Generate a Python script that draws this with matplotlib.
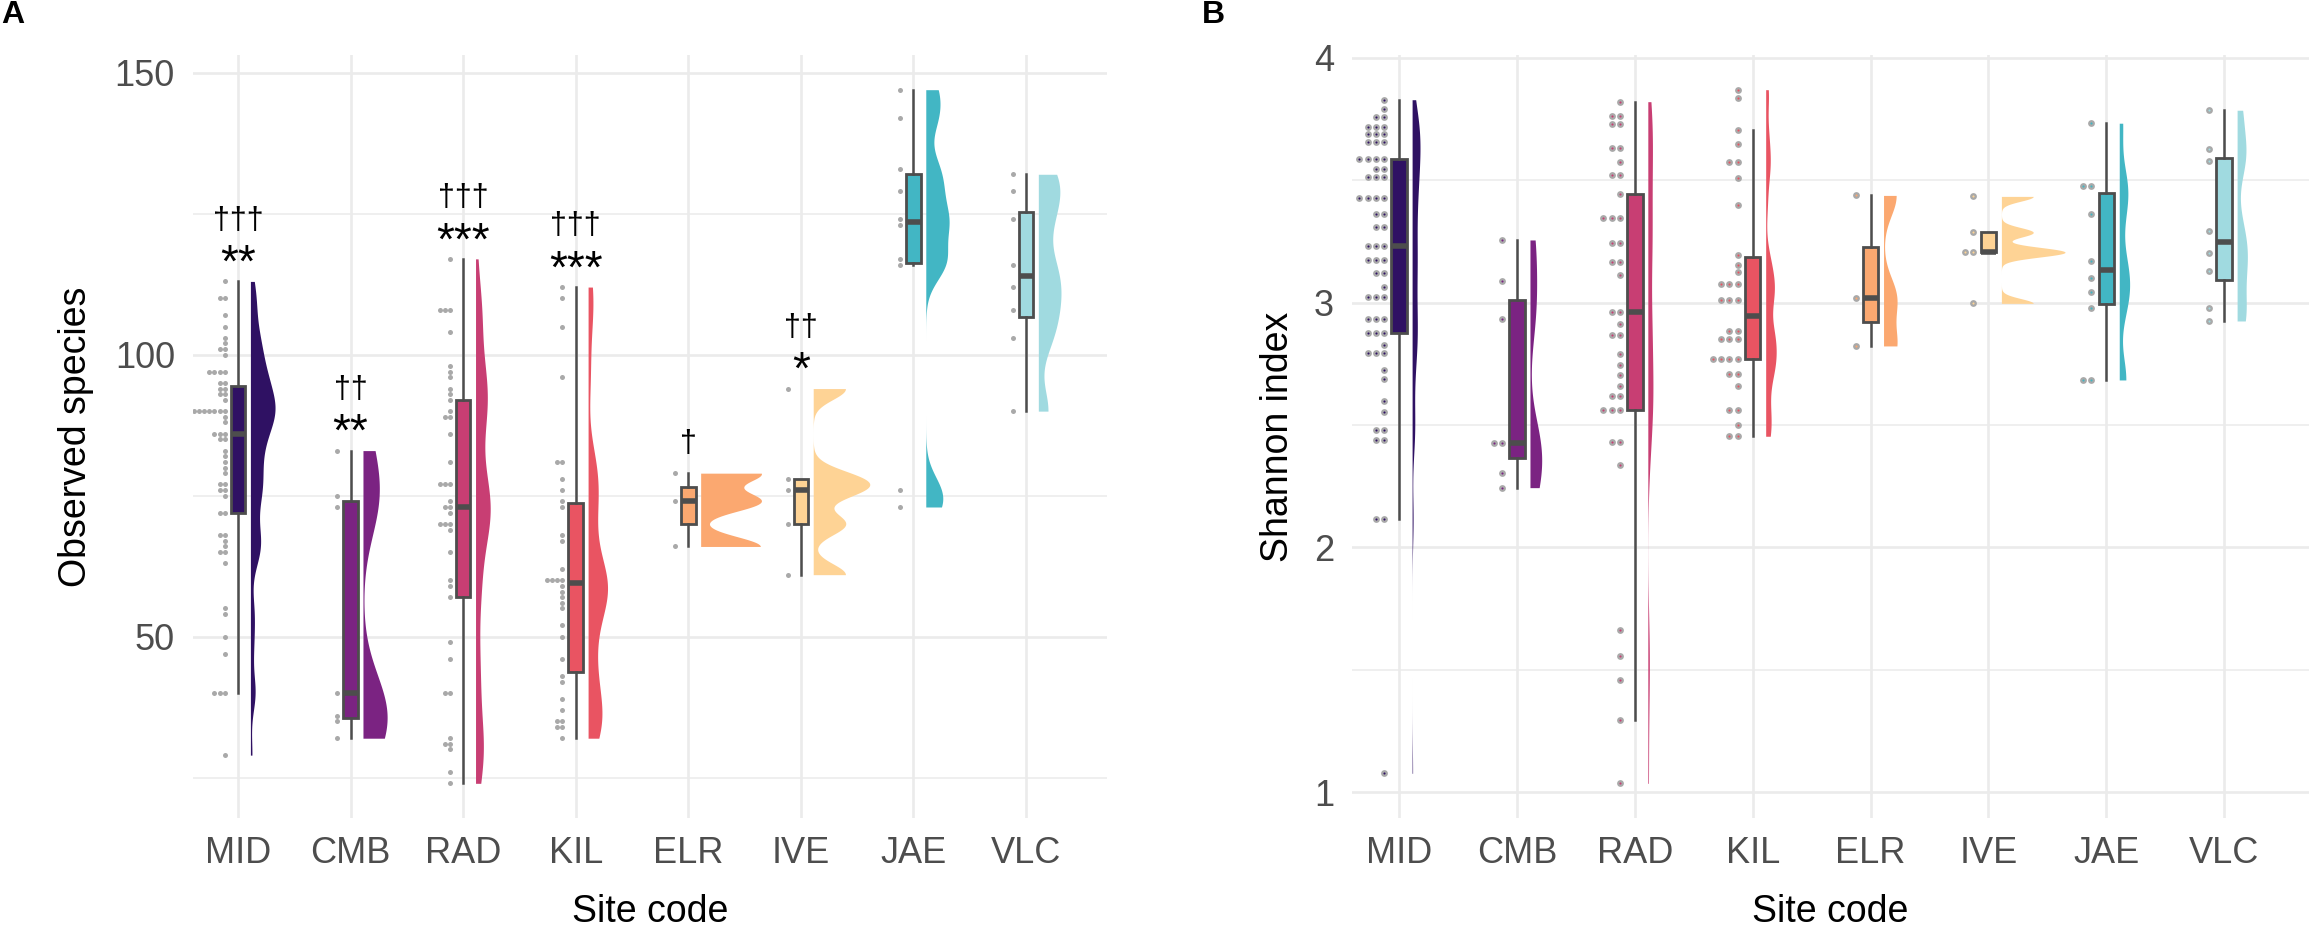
import numpy as np
import matplotlib
matplotlib.use('Agg')
import matplotlib.pyplot as plt
from matplotlib.ticker import MultipleLocator

plt.rcParams['font.family'] = ['Liberation Sans', 'DejaVu Sans']

# ---------------- data ----------------
sites = ['MID', 'CMB', 'RAD', 'KIL', 'ELR', 'IVE', 'JAE', 'VLC']
site_colors = ['#2f1163', '#7b2382', '#c83e73', '#e95462',
               '#fba870', '#fed395', '#42b6c4', '#a0dae0']

# Panel A: observed species per sample
obs_MID = [113, 110, 110, 107, 105, 103, 102, 101, 101, 100, 97, 97, 97, 97,
           95, 95, 94, 94, 93, 93, 92, 90, 90, 90, 90, 90, 90, 90, 90, 89, 88,
           86, 86, 86, 85, 85, 83, 82, 81, 80, 79, 77, 77, 76, 76, 75, 72, 72,
           68, 68, 67, 66, 65, 65, 63, 55, 54, 50, 47, 40, 40, 40, 29]
obs_CMB = [83, 75, 73, 40, 36, 35, 32]
obs_RAD = [117, 108, 108, 108, 104, 98, 97, 96, 94, 93, 92, 90, 89, 89, 86,
           81, 77, 77, 77, 74, 73, 73, 72, 70, 70, 70, 69, 65, 60, 59, 57, 49,
           46, 40, 40, 32, 31, 31, 30, 26, 24]
obs_KIL = [112, 110, 105, 96, 81, 81, 78, 76, 74, 73, 68, 67, 62, 60, 60, 60,
           60, 59, 58, 57, 56, 55, 52, 50, 46, 43, 42, 39, 37, 35, 35, 34, 34, 32]
obs_ELR = [79, 74, 66]
obs_IVE = [94, 78, 76, 70, 61]
obs_JAE = [147, 142, 133, 129, 124, 123, 117, 116, 76, 73]
obs_VLC = [132, 129, 124, 116, 112, 108, 103, 90]

# Panel B: Shannon index per sample
sh_MID = [3.829, 3.791, 3.760, 3.760, 3.718, 3.718, 3.718, 3.687, 3.687, 3.687,
          3.656, 3.656, 3.656, 3.587, 3.587, 3.587, 3.587, 3.545, 3.545,
          3.514, 3.514, 3.514, 3.426, 3.426, 3.426, 3.426, 3.362, 3.362,
          3.310, 3.310, 3.231, 3.231, 3.231, 3.173, 3.173, 3.173, 3.122, 3.122,
          3.064, 3.022, 3.022, 3.022, 2.934, 2.934, 2.934, 2.876, 2.876, 2.876,
          2.827, 2.794, 2.794, 2.794, 2.725, 2.689, 2.599, 2.554, 2.481, 2.481,
          2.439, 2.439, 2.115, 2.115, 1.077]
sh_CMB = [3.256, 3.089, 2.932, 2.428, 2.428, 2.304, 2.244]
sh_RAD = [3.821, 3.761, 3.761, 3.730, 3.730, 3.633, 3.633, 3.573, 3.520, 3.520,
          3.442, 3.345, 3.345, 3.345, 3.243, 3.243, 3.166, 3.166, 3.111,
          2.960, 2.960, 2.914, 2.867, 2.867, 2.790, 2.746, 2.703, 2.659,
          2.617, 2.617, 2.562, 2.562, 2.562, 2.429, 2.429, 2.338, 1.661, 1.555,
          1.460, 1.294, 1.036]
sh_KIL = [3.870, 3.838, 3.706, 3.648, 3.573, 3.573, 3.511, 3.398, 3.195, 3.155,
          3.124, 3.075, 3.075, 3.075, 3.009, 3.009, 3.009, 2.885, 2.885,
          2.852, 2.852, 2.852, 2.770, 2.770, 2.770, 2.770, 2.710, 2.710,
          2.659, 2.562, 2.562, 2.498, 2.454, 2.454]
sh_ELR = [3.438, 3.020, 2.823]
sh_IVE = [3.434, 3.287, 3.206, 3.206, 2.997]
sh_JAE = [3.733, 3.475, 3.475, 3.363, 3.168, 3.100, 3.044, 2.980, 2.684, 2.684]
sh_VLC = [3.786, 3.628, 3.580, 3.292, 3.201, 3.130, 2.977, 2.925]

# significance labels (panel A)
dagger_labels = ['†††', '††', '†††', '†††', '†', '††', '', '']
star_labels = ['**', '**', '***', '***', '', '*', '', '']

# ---------------- style ----------------
SLAB_OFF = 0.11
SLAB_W = 0.54
BOX_W = 0.13
EDGE = '#4d4d4d'
GRID = '#ebebeb'
DOT = '#a9a9a9'
TICK_FS = 26
TITLE_FS = 27


def nrd0(x):
    sd = np.std(x, ddof=1)
    q75, q25 = np.percentile(x, [75, 25])
    lo = min(sd, (q75 - q25) / 1.34)
    if lo <= 0:
        lo = sd if sd > 0 else 1.0
    return 0.9 * lo * len(x) ** -0.2


def kde(x, h, grid):
    z = (grid[:, None] - x[None, :]) / h
    return np.exp(-0.5 * z * z).sum(axis=1) / (len(x) * h * np.sqrt(2 * np.pi))


def draw_panel(ax, groups, major, minor, dot_off, dot_sp, dot_ms, center_dot):
    positions = np.arange(1, len(groups) + 1)
    arrs = [np.asarray(g, float) for g in groups]

    # half-violins (density, trimmed to range, normalised over the panel)
    dens = []
    for x in arrs:
        h = 0.5 * nrd0(x)
        yy = np.linspace(x.min(), x.max(), 800)
        dens.append((yy, kde(x, h, yy)))
    dmax = max(d.max() for _, d in dens)
    for p, (yy, d), c in zip(positions, dens, site_colors):
        ax.fill_betweenx(yy, p + SLAB_OFF, p + SLAB_OFF + d / dmax * SLAB_W,
                         color=c, lw=0, zorder=2)

    # boxplots
    bp = ax.boxplot(arrs, positions=positions, widths=BOX_W, patch_artist=True,
                    showfliers=False, showcaps=False, whis=1.5,
                    manage_ticks=False,
                    boxprops=dict(edgecolor=EDGE, linewidth=2.0),
                    whiskerprops=dict(color=EDGE, linewidth=1.8),
                    medianprops=dict(color=EDGE, linewidth=4.0,
                                     solid_capstyle='butt'))
    for patch, c in zip(bp['boxes'], site_colors):
        patch.set_facecolor(c)
        patch.set_zorder(3)
    for k in ('whiskers', 'medians'):
        for ln in bp[k]:
            ln.set_zorder(3.5)

    # dot stacks (to the left)
    for p, x, c in zip(positions, arrs, site_colors):
        vals, counts = np.unique(x, return_counts=True)
        xs, ys = [], []
        for v, n in zip(vals, counts):
            for j in range(n):
                xs.append(p - dot_off - j * dot_sp)
                ys.append(v)
        ax.plot(xs, ys, 'o', ms=dot_ms, color=DOT, mec='none', zorder=4)
        if center_dot:
            ax.plot(xs, ys, 'o', ms=1.5, color=c, mec='none', zorder=5)

    allv = np.concatenate(arrs)
    lo, hi = allv.min(), allv.max()
    r = hi - lo
    ax.set_ylim(lo - 0.05 * r, hi + 0.05 * r)
    ax.set_xlim(0.6, 8.72)
    ax.set_xticks(positions)
    ax.set_xticklabels(sites)
    ax.yaxis.set_major_locator(MultipleLocator(major))
    ax.yaxis.set_minor_locator(MultipleLocator(minor))
    ax.grid(True, which='major', color=GRID, lw=1.9)
    ax.grid(True, which='minor', axis='y', color=GRID, lw=1.1)
    ax.set_axisbelow(True)
    ax.tick_params(which='both', length=0, labelsize=TICK_FS,
                   labelcolor='#4d4d4d', pad=13)
    for s in ax.spines.values():
        s.set_visible(False)
    return positions


W_PX, H_PX = 2309, 932
fig = plt.figure(figsize=(W_PX / 100, H_PX / 100), dpi=100)

axA = fig.add_axes([193 / W_PX, 1 - 818 / H_PX, (1107 - 193) / W_PX, (818 - 55) / H_PX])
axB = fig.add_axes([1352 / W_PX, 1 - 818 / H_PX, (W_PX - 1352) / W_PX, (818 - 55) / H_PX])

groupsA = [obs_MID, obs_CMB, obs_RAD, obs_KIL, obs_ELR, obs_IVE, obs_JAE, obs_VLC]
groupsB = [sh_MID, sh_CMB, sh_RAD, sh_KIL, sh_ELR, sh_IVE, sh_JAE, sh_VLC]

posA = draw_panel(axA, groupsA, 50, 25, 0.118, 0.046, 3.6, False)
posB = draw_panel(axB, groupsB, 1, 0.5, 0.127, 0.07, 4.9, True)

# significance annotations
for p, g, dg, st in zip(posA, groupsA, dagger_labels, star_labels):
    top = max(g)
    if st:
        axA.annotate(st, (p, top), xytext=(0, 3.2), textcoords='offset points',
                     ha='center', va='baseline', fontsize=33, zorder=6)
        axA.annotate(dg, (p, top), xytext=(0, 38), textcoords='offset points',
                     ha='center', va='baseline', fontsize=22, zorder=6)
    elif dg:
        axA.annotate(dg, (p, top), xytext=(0, 15), textcoords='offset points',
                     ha='center', va='baseline', fontsize=22, zorder=6)

# axis titles
for ax, ylab, ycoord in ((axA, 'Observed species', -0.117),
                         (axB, 'Shannon index', -0.0669)):
    ax.set_ylabel(ylab, fontsize=TITLE_FS, color='black')
    ax.yaxis.label.set_va('baseline')
    ax.yaxis.set_label_coords(ycoord, 0.5)
    ax.set_xlabel('Site code', fontsize=TITLE_FS, color='black')
    ax.xaxis.label.set_va('baseline')
    ax.xaxis.set_label_coords(0.5, -(922 - 818) / (818 - 55))

# panel tags
fig.text(0.0005, 1.0, 'A', fontsize=23, fontweight='bold', va='top', ha='left')
fig.text(1202 / W_PX, 1.0, 'B', fontsize=23, fontweight='bold', va='top', ha='left')

fig.savefig('out.png', dpi=100, facecolor='white')
